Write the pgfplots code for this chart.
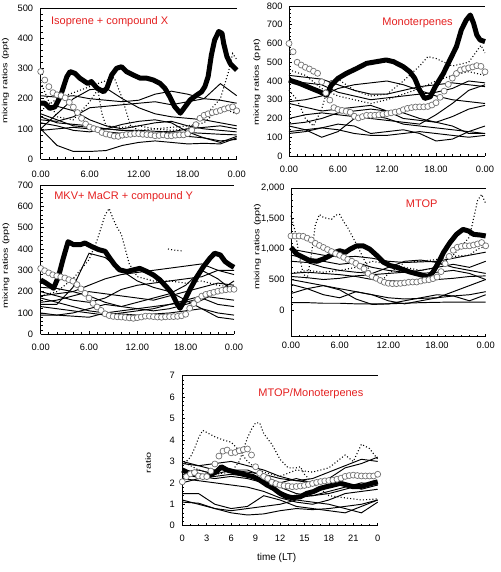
\documentclass[border=0pt]{standalone}
\usepackage{fontspec}
\setmainfont{Liberation Sans}
\newfontfamily\ylabfont[FakeStretch=1.45]{Liberation Sans}
\usepackage{pgfplots}
\usepackage{pgfplotstable}
\pgfplotsset{compat=1.18}
\definecolor{titlered}{RGB}{228,32,32}

\pgfplotstableread{
h  a   b   c   d   e   f   g   k   i
0  210 150 140 100 100 130 180 95  120
2  205 130 120 45  150 125 175 100 110
4  210 110 115 25  200 140 160 105 95
6  200 105 110 25  230 170 130 100 90
8  195 100 100 28  235 175 110 90  100
10 190 95  95  45  200 180 100 85  115
12 195 95  90  55  170 185 110 80  125
14 215 92  85  60  150 190 120 85  130
16 225 90  80  55  140 180 125 90  120
18 215 88  75  50  135 190 110 100 90
20 200 85  70  52  130 200 100 105 70
22 195 82  55  50  120 250 95  110 60
24 185 80  75  70  110 210 90  100 65
}\thinA

\pgfplotstableread{
h  a   b   c   d   e   f   g   k   i
0  430 400 290 280 200 170 130 120 160
2  420 390 300 260 220 180 140 130 140
4  410 380 320 240 230 200 150 150 100
6  380 340 360 250 220 230 140 170 130
8  350 320 380 260 210 240 120 160 200
10 330 300 390 270 200 250 110 120 220
12 330 310 400 240 190 240 110 130 200
14 350 320 380 200 180 230 120 140 170
16 370 330 350 190 170 200 130 120 160
18 380 340 320 180 220 180 120 80  150
20 390 360 300 210 280 160 110 90  140
22 380 400 290 250 350 120 100 130 130
24 370 390 280 270 380 120 110 160 120
}\thinB

\pgfplotstableread{
h  a   b   c   d   e   f   g   k   i
0  220 180 150 130 90  200 170 140 100
2  215 190 160 120 90  180 150 140 90
4  200 200 180 110 85  160 130 220 100
6  180 230 200 100 80  150 110 380 120
8  150 260 190 90  100 170 100 360 140
10 130 280 180 100 110 210 95  300 130
12 120 290 170 110 120 230 90  250 150
14 110 300 160 120 130 240 95  220 170
16 120 310 180 140 140 250 100 200 190
18 140 320 200 160 150 260 110 160 230
20 160 330 220 180 170 270 120 120 300
22 200 300 240 170 140 300 100 80  260
24 250 280 230 160 130 300 90  70  200
}\thinC

\pgfplotstableread{
h  a   b   c   d   e   f   g    k   i
0  120 270 600 550 500 900 1000 420 800
2  120 350 620 530 450 850 950  350 780
4  110 400 600 500 400 800 900  250 700
6  110 330 580 520 350 750 870  200 650
8  100 180 550 560 300 780 880  300 620
10 100 90  500 580 250 700 850  250 600
12 100 100 480 600 200 650 800  150 700
14 110 150 470 620 180 620 780  100 800
16 120 200 480 650 190 600 790  150 820
18 125 250 500 700 200 620 800  200 780
20 130 230 520 750 230 650 850  300 700
22 130 150 550 700 250 600 900  400 650
24 130 250 560 800 300 500 950  500 600
}\thinD

\pgfplotstableread{
h  a    b   c   d   e   f   g   k   i
0  1.1  1.5 1.2 3.0 2.9 2.4 2.0 2.5 2.2
2  1.05 1.5 1.0 2.8 2.8 2.3 2.2 2.6 2.1
4  0.8  1.0 0.8 2.6 2.9 2.2 2.3 2.4 2.0
6  0.6  0.8 0.7 2.6 3.0 2.3 2.4 2.6 1.9
8  0.5  0.9 0.8 2.5 2.8 2.2 2.3 2.6 1.8
10 0.55 1.4 0.9 2.4 2.6 2.0 2.1 2.3 1.6
12 0.7  1.2 1.0 2.2 2.3 1.6 1.8 2.0 1.3
14 0.8  0.9 1.2 2.1 2.1 1.3 1.5 2.2 1.1
16 0.75 0.8 1.1 2.0 2.2 1.4 1.4 2.0 1.0
18 0.8  0.7 1.0 2.2 2.5 1.6 1.5 2.1 1.2
20 0.9  0.6 0.8 2.7 2.8 1.8 1.7 2.0 1.5
22 1.0  0.9 0.6 2.9 3.1 2.0 1.9 1.7 1.6
24 1.2  1.2 1.1 3.2 3.0 1.9 2.0 1.9 1.7
}\thinE

\pgfplotstableread{
h    A    B    C    D    E
0    290  600  309  1216 2.05
0.5  262  556  298  1216 2.29
1    240  500  288  1216 2.42
1.5  220  485  279  1210 2.48
2    213  473  274  1180 2.32
2.5  210  464  269  1150 2.29
3    203  452  264  1095 2.29
3.5  188  441  256  1060 2.55
4    172  396  249  1027 2.88
4.5  154  336  233  993  3.25
5    135  298  213  960  3.48
5.5  116  258  192  925  3.53
6    106  248  170  898  3.40
6.5  101  243  145  865  3.42
7    97   238  128  830  3.50
7.5  88   233  112  800  3.55
8    83   212  96   765  3.58
8.5  80   203  88   720  3.30
9    76   210  84   676  2.75
9.5  75   217  82   600  2.45
10   79   217  81   550  2.30
10.5 81   217  79   520  2.20
11   82   220  77   485  2.03
11.5 84   223  75   455  1.96
12   84   226  78   438  1.90
12.5 82   230  81   432  1.87
13   81   234  85   432  1.85
13.5 80   238  85   437  1.82
14   77   247  83   445  1.83
14.5 78   254  81   455  1.85
15   80   258  80   459  1.88
15.5 77   261  82   459  1.92
16   77   262  83   475  1.97
16.5 79   262  83   490  2.02
17   80   264  84   497  2.06
17.5 80   272  87   515  2.09
18   84   284  94   541  2.11
18.5 96   313  122  630  2.13
19   114  346  144  760  2.17
19.5 135  382  163  880  2.22
20   145  415  179  980  2.30
20.5 150  440  187  1030 2.34
21   154  459  192  1045 2.36
21.5 157  465  197  1054 2.34
22   161  470  202  1054 2.32
22.5 166  475  206  1067 2.32
23   170  482  209  1085 2.32
23.5 173  478  211  1108 2.32
24   160  449  211  1054 2.40
}\openall

\pgfplotsset{
  panel/.style={
    scale only axis, anchor=south west,
    axis x line*=bottom, axis y line*=left,
    axis line style={line width=0.8pt},
    xmin=0, xmax=24,
    tick align=inside, major tick length=3pt, minor tick length=2pt,
    tick style={black, line width=0.6pt},
    ticklabel style={font=\fontsize{9.3}{10}\selectfont},
    /pgf/number format/assume math mode=true,
    ylabel style={font=\ylabfont\fontsize{7.5}{8}\selectfont, anchor=center},
    clip=false,
  },
  hourticks/.style={xtick={0,6,12,18,24}, xticklabels={0.00,6.00,12.00,18.00,0.00}, minor x tick num=5},
  thin/.style={black, line width=0.95pt, no markers},
  dots/.style={black, line width=1.1pt, dash pattern=on 1pt off 2.2pt, no markers},
  thick/.style={black, line width=5pt, line join=round, mark=*, mark size=3.1pt, mark options={fill=black, line width=0.1pt}},
  open/.style={only marks, mark=*, mark size=3pt, mark options={fill=white, draw=gray!90!black, line width=0.7pt}},
}

\begin{document}
\begin{tikzpicture}
\path[use as bounding box] (0,0) rectangle (500pt,572pt);

% ---------- Panel 1
\begin{axis}[panel, hourticks, at={(40.7pt,413pt)}, width=196pt, height=150.7pt,
  ymin=0, ymax=500, ytick={0,100,...,500}, minor y tick num=4,
  ylabel={mixing ratios (ppt)}, ylabel style={at={(axis description cs:-0.18,0.52)}},
  xticklabel style={yshift=-8pt}, yticklabel style={xshift=-4pt}]
\pgfplotsinvokeforeach{a,b,c,d,e,f,g,k,i}{\addplot[thin] table[x=h,y=#1]{\thinA};}
\addplot[dots] coordinates {(0,255)(1,190)(2,140)(4,130)(6,190)(7,230)(7.5,150)(8,110)(10,105)(12,110)(14,100)(16,95)(18,100)(20,140)(22,200)(23,290)(23.5,350)(24,330)};
\addplot[dots] coordinates {(0,160)(2,200)(4,220)(6,240)(8,260)(9,270)(10,200)(11,110)(12,95)(14,100)(16,105)(18,110)(20,120)(22,170)(24,150)};
\addplot[thick] coordinates {(0,185)(0.5,185)(1.1,168)(1.75,173)(2.4,207)(3.2,273)(3.6,290)(4.2,284)(4.8,268)(5.4,257)(5.8,250)(6.2,257)(6.9,235)(7.7,223)(8.1,235)(8.7,279)(9.3,301)(9.9,306)(10.5,290)(11.3,279)(12.2,268)(13,268)(13.8,262)(14.6,251)(15.2,235)(15.8,207)(16.4,174)(17.1,152)(17.7,174)(18.3,196)(19.1,212)(19.7,223)(20.1,240)(20.5,273)(20.9,345)(21.3,395)(21.8,423)(22.2,417)(22.4,384)(22.8,340)(23.2,317)(23.6,306)(24,295)};
\addplot[open] table[x=h,y=A]{\openall};
\draw[line width=0.8pt] (rel axis cs:0,1) -- (rel axis cs:1,1);
\node[anchor=west, text=titlered, font=\fontsize{11}{12}\selectfont] at (rel axis cs:0.035,0.91) {Isoprene + compound X};
\end{axis}

% ---------- Panel 2
\begin{axis}[panel, hourticks, at={(289pt,416pt)}, width=196pt, height=150pt,
  ymin=0, ymax=800, ytick={0,100,...,800}, minor y tick num=4,
  ylabel={mixing ratios (ppt)}, ylabel style={at={(axis description cs:-0.163,0.49)}},
  xticklabel style={yshift=-6pt}, yticklabel style={xshift=-3pt}]
\pgfplotsinvokeforeach{a,b,c,d,e,f,g,k,i}{\addplot[thin] table[x=h,y=#1]{\thinB};}
\addplot[dots] coordinates {(0,350)(1,300)(2,200)(3,160)(4,250)(5,400)(6,410)(8,350)(10,320)(12,330)(14,400)(16,480)(17,530)(18,520)(20,480)(22,500)(23,560)(23.5,590)(24,550)};
\addplot[dots] coordinates {(0,460)(2,430)(4,360)(6,320)(8,300)(10,280)(12,300)(14,330)(16,360)(18,400)(20,430)(22,450)(24,430)};
\addplot[thick] coordinates {(0,405)(1.3,387)(2.5,365)(3.8,342)(4.6,324)(5.2,378)(6,414)(7,440)(8.3,467)(9.5,494)(10.7,503)(11.9,512)(12.8,503)(14,476)(14.8,449)(15.4,414)(16,351)(16.6,307)(17.3,316)(17.9,369)(18.9,440)(19.7,512)(20.5,583)(21.1,672)(21.7,725)(22.2,752)(22.6,708)(23,645)(23.4,619)(24,610)};
\addplot[open] table[x=h,y=B]{\openall};
\draw[line width=0.8pt] (rel axis cs:0,1) -- (rel axis cs:1,1);
\node[text=titlered, font=\fontsize{11}{12}\selectfont] at (rel axis cs:0.656,0.889) {Monoterpenes};
\end{axis}

% ---------- Panel 3
\begin{axis}[panel, hourticks, at={(40.7pt,237.7pt)}, width=193.3pt, height=149.3pt,
  ymin=0, ymax=700, ytick={0,100,...,700}, minor y tick num=4,
  ylabel={mixing ratios (ppt)}, ylabel style={at={(axis description cs:-0.18,0.46)}},
  xticklabel style={yshift=-6pt}, yticklabel style={xshift=-4pt}]
\pgfplotsinvokeforeach{a,b,c,d,e,f,g,k,i}{\addplot[thin] table[x=h,y=#1]{\thinC};}
\addplot[dots] coordinates {(0,180)(2,200)(4,260)(6,350)(7,440)(7.5,500)(8,560)(8.5,590)(9,540)(9.5,500)(10,470)(10.5,400)(11,330)(12,270)(14,250)(16,250)(18,240)(20,250)(22,230)(24,220)};
\addplot[dots] coordinates {(15.8,400)(16.5,395)(17.3,392)(17.7,390)};
\addplot[thick] coordinates {(0,255)(0.7,239)(1.6,216)(2.2,270)(2.8,356)(3.4,434)(4.1,420)(4.9,420)(5.5,428)(6.3,412)(7.2,397)(8,389)(8.6,356)(9.2,325)(9.8,302)(10.7,294)(11.5,302)(12.3,309)(13.2,294)(14,278)(14.8,255)(15.6,223)(16.3,192)(16.9,145)(17.3,122)(17.9,161)(18.5,208)(19.4,270)(20.2,317)(21,356)(21.6,380)(22.3,372)(22.9,341)(23.5,325)(24,314)};
\addplot[open] table[x=h,y=C]{\openall};
\draw[line width=0.8pt] (rel axis cs:0,1) -- (rel axis cs:1,1);
\node[anchor=west, text=titlered, font=\fontsize{11}{12}\selectfont] at (rel axis cs:0.052,0.92) {MKV+ MaCR + compound Y};
\end{axis}

% ---------- Panel 4
\begin{axis}[panel, hourticks, at={(291pt,235.3pt)}, width=194.7pt, height=148.4pt,
  ymin=-440, ymax=2000, ytick={0,500,...,2000}, minor y tick num=4,
  ylabel={mixing ratios (ppt)}, ylabel style={at={(axis description cs:-0.172,0.606)}},
  xticklabel style={yshift=-2pt}, yticklabel style={xshift=-3pt}]
\pgfplotsinvokeforeach{a,b,c,d,e,f,g,k,i}{\addplot[thin] table[x=h,y=#1]{\thinD};}
\addplot[dots] coordinates {(0,1550)(0.5,1300)(1,900)(1.5,600)(2,520)(2.5,900)(3,1400)(3.5,1570)(4,1520)(5,1490)(5.5,1560)(6,1570)(6.5,1450)(7,1350)(8,1100)(9,830)(10,560)(11,450)(12,600)(14,780)(16,800)(18,830)(20,880)(22,900)(23,1000)(24,1050)};
\addplot[dots] coordinates {(0,600)(2,650)(4,620)(6,650)(8,700)(10,800)(12,750)(14,700)(16,650)(18,700)(20,900)(22,1200)(22.5,1500)(23,1800)(23.5,1900)(24,1750)};
\addplot[thick] coordinates {(0,1027)(0.7,919)(1.5,865)(2.3,811)(3.2,800)(4,838)(4.8,892)(5.4,946)(6,973)(6.7,946)(7.3,1000)(8.1,1054)(8.9,1054)(9.7,1000)(10.6,892)(11.4,784)(12.2,730)(13,703)(13.9,659)(14.7,622)(15.5,595)(16.3,568)(16.9,541)(17.5,622)(18.2,784)(18.8,946)(19.6,1108)(20.4,1243)(21.2,1324)(21.9,1297)(22.5,1243)(23.3,1232)(24,1216)};
\addplot[open] table[x=h,y=D]{\openall};
\draw[line width=0.8pt] (rel axis cs:0,1) -- (rel axis cs:1,1);
\node[text=titlered, font=\fontsize{11}{12}\selectfont] at (rel axis cs:0.671,0.894) {MTOP};
\end{axis}

% ---------- Panel 5
\begin{axis}[panel, at={(182.3pt,46.3pt)}, width=195.4pt, height=150pt,
  xtick={0,3,...,24}, xticklabels={0,3,6,9,12,15,18,21,0}, minor x tick num=2,
  ymin=0, ymax=7, ytick={0,1,...,7}, minor y tick num=4,
  ylabel={ratio}, ylabel style={at={(axis description cs:-0.175,0.42)}},
  xlabel={time (LT)}, xlabel style={at={(axis description cs:0.483,0)}, anchor=center, yshift=-32pt, font=\fontsize{10}{12}\selectfont},
  xticklabel style={yshift=-6pt}, yticklabel style={xshift=-4pt}]
\pgfplotsinvokeforeach{a,b,c,d,e,f,g,k,i}{\addplot[thin] table[x=h,y=#1]{\thinE};}
\addplot[dots] coordinates {(0,2.8)(1,3.2)(1.5,3.6)(2,4.1)(2.5,4.45)(3,4.35)(4,4.15)(5,4.0)(6,3.9)(7,3.5)(8,3.0)(9,2.7)(10,2.5)(12,2.3)(14,2.6)(16,2.5)(18,2.7)(20,3.3)(21,3.0)(22,3.8)(23,3.6)(24,3.1)};
\addplot[dots] coordinates {(0,3.0)(2,2.6)(4,2.4)(6,2.5)(7,3.0)(8,4.1)(8.5,4.5)(9,4.8)(9.5,4.8)(10,4.3)(11,3.8)(12,3.1)(13,2.7)(14,2.7)(14.5,2.75)(15,2.4)(16,2.0)(18,1.4)(20,1.3)(22,1.2)(24,1.25)};
\addplot[thick] coordinates {(0,2.6)(0.9,2.44)(1.8,2.36)(2.6,2.29)(3.4,2.36)(4.2,2.52)(4.8,2.75)(5.5,2.6)(6.3,2.52)(7.1,2.44)(7.9,2.36)(8.7,2.29)(9.5,2.13)(10.4,1.9)(11.2,1.74)(12,1.51)(12.8,1.35)(13.6,1.31)(14.5,1.35)(15.3,1.51)(16.1,1.59)(16.9,1.74)(17.7,1.82)(18.6,1.9)(19.4,1.98)(20.2,1.9)(21,1.82)(21.8,1.82)(22.6,1.9)(23.5,2.0)(24,2.05)};
\addplot[open] table[x=h,y=E]{\openall};
\draw[line width=0.8pt] (rel axis cs:0,1) -- (rel axis cs:1,1);
\node[text=titlered, font=\fontsize{11}{12}\selectfont] at (rel axis cs:0.658,0.883) {MTOP/Monoterpenes};
\end{axis}
\end{tikzpicture}
\end{document}
